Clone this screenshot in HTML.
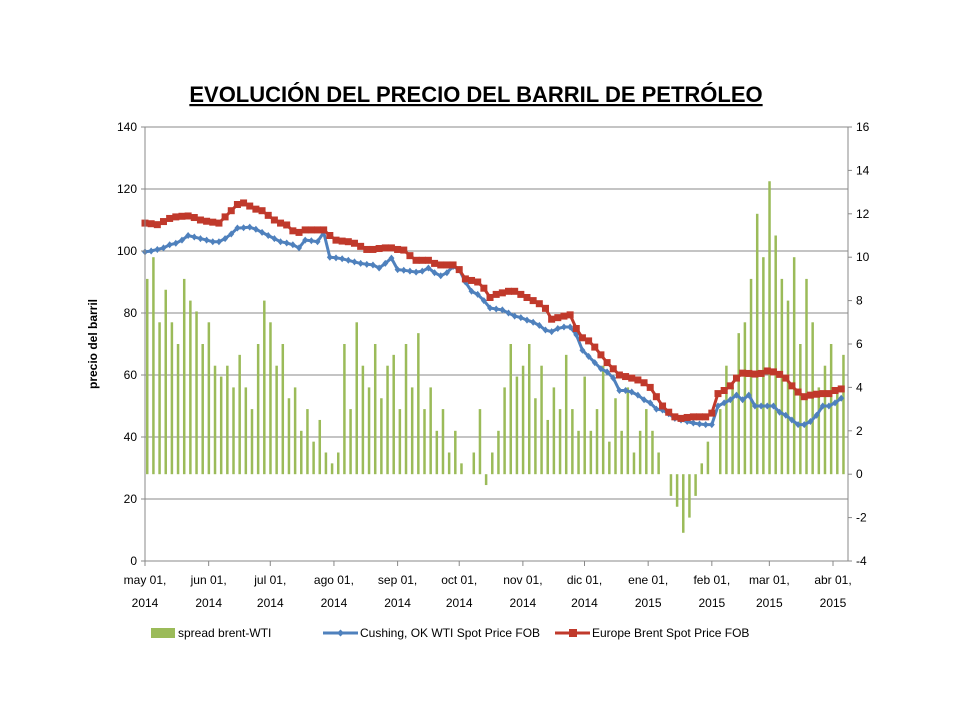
<!DOCTYPE html>
<html><head><meta charset="utf-8"><style>
body{margin:0;background:#fff;font-family:"Liberation Sans",sans-serif}
svg text{font-family:"Liberation Sans",sans-serif;fill:#000}
</style></head><body>
<svg id="c" width="960" height="720">
<rect width="960" height="720" fill="#fff"/>
<text x="476" y="102" text-anchor="middle" font-size="22" font-weight="bold" text-decoration="underline">EVOLUCIÓN DEL PRECIO DEL BARRIL DE PETRÓLEO</text>
<text transform="translate(97,344) rotate(-90)" text-anchor="middle" font-size="12" font-weight="bold">precio del barril</text>
<g id="grid"></g><g id="bars"></g><g id="lines"></g><g id="axes"></g>
<g font-size="12">
<rect x="151" y="628" width="24" height="10" fill="#9bbb59"/>
<text x="178" y="637">spread brent-WTI</text>
<line x1="323" y1="633" x2="358" y2="633" stroke="#4f81bd" stroke-width="3"/>
<path d="M340.5 629.5l3.5 3.5-3.5 3.5-3.5-3.5z" fill="#4f81bd"/>
<text x="360" y="637">Cushing, OK WTI Spot Price FOB</text>
<line x1="555" y1="633" x2="590" y2="633" stroke="#c0392b" stroke-width="3"/>
<rect x="569" y="629" width="8" height="8" fill="#c0392b"/>
<text x="592" y="637">Europe Brent Spot Price FOB</text>
</g>
</svg>
<script>
const dateLabels=["may 01,","jun 01,","jul 01,","ago 01,","sep 01,","oct 01,","nov 01,","dic 01,","ene 01,","feb 01,","mar 01,","abr 01,"];
const yearLabels=["2014","2014","2014","2014","2014","2014","2014","2014","2015","2015","2015","2015"];
const tickDays=[0,31,61,92,123,153,184,214,245,276,304,335];
const leftTicks=[0,20,40,60,80,100,120,140];
const rightTicks=[-4,-2,0,2,4,6,8,10,12,14,16];
// every 3 calendar days from May 1 2014
const brent=[109,108.8,108.5,109.5,110.5,111,111.2,111.3,110.8,110,109.6,109.3,109,111,113,115,115.5,114.5,113.5,113,111.5,110,109,108.4,106.5,106,106.8,106.8,106.8,106.8,105,103.5,103.2,103,102.5,101.5,100.5,100.5,100.8,101,101,100.5,100.3,98.5,97,97,97,96,
95.5,95.5,95.5,94,91,90.5,90,88,85,86,86.5,87,87,86,85,84,83,81.5,78,78.5,79,79.4,75,72,71,69,66.5,64,62,60,59.5,59,58.4,57.5,56,53,50,48,46.5,46,46.3,46.5,46.5,46.5,47.7,54,55,56.5,59,60.6,60.5,60.3,60.5,61.3,61,60.2,59,56.5,54.5,53,53.5,53.8,54,54,55,55.5];
const wti=[99.7,100,100.5,101,102,102.5,103.5,105,104.5,104,103.5,103,103,104,105.5,107.4,107.5,107.7,107,106,105,104,103,102.6,102,101,103.5,103.3,103,106,98,97.8,97.5,97,96.5,96,95.7,95.5,94.5,96,97.7,94,93.8,93.5,93.2,93.5,94.5,93,
92,93,95,94,90,87,86,84,81.6,81.3,81,80,79,78.5,77.7,77,76,74.5,74,75,75.5,75.5,73,68,66,64,62,61,59,55,55,54.5,53.5,52,51,49,48.7,47.5,46,45.5,45,44.5,44.2,44,44,50,51,52,53.5,52,53.5,50,50,50,50,48,47,45.5,44,44,45,47,50,50,51,52.5];
const spread=[9,10,7,8.5,7,6,9,8,7.5,6,7,
5,4.5,5,4,5.5,4,3,6,8,7,
5,6,3.5,4,2,3,1.5,2.5,1,0.5,
1,6,3,7,5,4,6,3.5,5,5.5,3,
6,4,6.5,3,4,2,3,1,2,0.5,
0,1,3,-0.5,1,2,4,6,4.5,5,
6,3.5,5,2.5,4,3,5.5,3,2,4.5,
2,3,5,1.5,3.5,2,4,1,2,3,
2,1,0,-1,-1.5,-2.7,-2,-1,0.5,1.5,0,
3,5,4,6.5,7,9,12,10,13.5,
11,9,8,10,6,9,7,4,5,6,
4,5.5];
const NS="http://www.w3.org/2000/svg";
const X0=145,X1=848,YT=127,YB=561,PXD=(833-145)/335;
const xd=d=>X0+d*PXD;
const yl=v=>YB-(v/140)*(YB-YT);
const yr=v=>YB-((v+4)/20)*(YB-YT);
function mk(tag,attrs,parent){const e=document.createElementNS(NS,tag);for(const k in attrs)e.setAttribute(k,attrs[k]);parent.appendChild(e);return e;}
const grid=document.getElementById('grid'),axes=document.getElementById('axes'),bars=document.getElementById('bars'),lines=document.getElementById('lines');
leftTicks.forEach(v=>{
 if(v>0){const g=mk('line',{x1:X0,x2:X1,y1:yl(v),y2:yl(v),stroke:'#888','stroke-width':1},grid);
 
 }
 const t=mk('text',{x:X0-8,y:yl(v)+4,'text-anchor':'end','font-size':12},axes);t.textContent=v;
 
 
 mk('line',{x1:X0-4,x2:X0,y1:yl(v),y2:yl(v),stroke:'#888'},axes);
});
rightTicks.forEach(v=>{
 const t=mk('text',{x:X1+8,y:yr(v)+4,'font-size':12},axes);t.textContent=v;
 
 
 mk('line',{x1:X1,x2:X1+4,y1:yr(v),y2:yr(v),stroke:'#888'},axes);
});
mk('line',{x1:X0,x2:X0,y1:YT,y2:YB,stroke:'#888'},axes);
mk('line',{x1:X1,x2:X1,y1:YT,y2:YB,stroke:'#888'},axes);
mk('line',{x1:X0,x2:X1,y1:YB,y2:YB,stroke:'#888'},axes);
tickDays.forEach((d,i)=>{
 mk('line',{x1:xd(d),x2:xd(d),y1:YB,y2:YB+5,stroke:'#888'},axes);
 const t=mk('text',{x:xd(d),y:584,'text-anchor':'middle','font-size':12},axes);t.textContent=dateLabels[i];
 
 
 const t2=mk('text',{x:xd(d),y:607,'text-anchor':'middle','font-size':12},axes);t2.textContent=yearLabels[i];
 
 
});
spread.forEach((v,i)=>{
 const x=xd(i*3)+1,y0=yr(0),y1=yr(v);
 const b=mk('rect',{x:x,y:Math.min(y0,y1),width:2.5,height:Math.abs(y1-y0),fill:'#9bbb59'},bars);
 
 
});
function series(arr,color,name,square){
 const pts=arr.map((v,i)=>xd(i*3).toFixed(1)+','+yl(v).toFixed(1)).join(' ');
 const p=mk('polyline',{points:pts,fill:'none',stroke:color,'stroke-width':3},lines);
 
 
 arr.forEach((v,i)=>{const x=xd(i*3),y=yl(v);
  if(square)mk('rect',{x:x-3.5,y:y-3.5,width:7,height:7,fill:color},lines);
  else mk('path',{d:`M${x} ${y-3.5}l3 3.5-3 3.5-3-3.5z`,fill:color},lines);});
}
series(wti,'#4f81bd','wti-line',false);
series(brent,'#c0392b','brent-line',true);
</script>
</body></html>
